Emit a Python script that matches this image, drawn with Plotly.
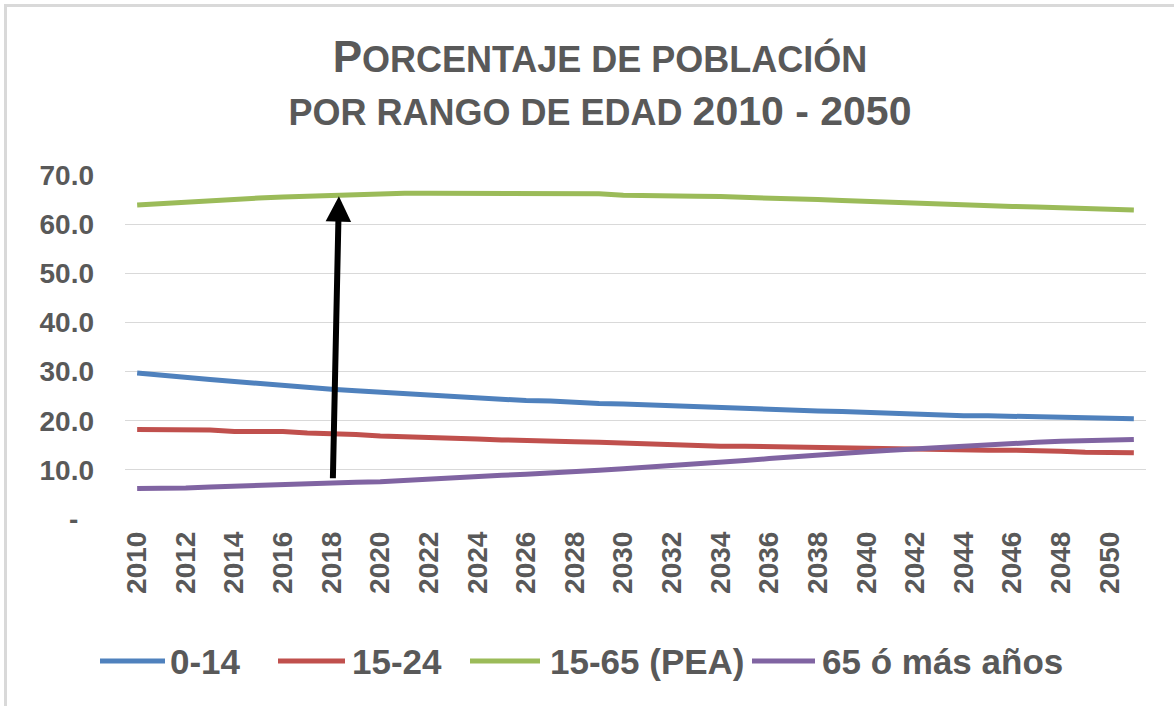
import plotly.graph_objects as go

years = list(range(2010, 2052))

pob_0_14 = [29.7, 29.2, 28.7, 28.4, 28.0, 27.6, 27.0, 26.7, 26.4, 26.1,
            25.8, 25.7, 25.4, 25.0, 24.7, 24.4, 24.1, 24.0, 23.7, 23.5,
            23.4, 23.2, 23.1, 22.8, 22.6, 22.5, 22.3, 22.2, 22.0, 21.9,
            21.7, 21.6, 21.4, 21.2, 21.0, 21.0, 20.9, 20.7, 20.7, 20.6,
            20.4, 20.4]

pob_15_24 = [18.2, 18.2, 18.2, 18.1, 17.8, 17.8, 17.8, 17.5, 17.4, 17.2,
             16.9, 16.8, 16.6, 16.4, 16.3, 16.1, 15.9, 15.7, 15.7, 15.6,
             15.4, 15.2, 15.0, 14.9, 14.8, 14.8, 14.7, 14.6, 14.5, 14.5,
             14.5, 14.3, 14.2, 14.1, 14.1, 14.0, 14.0, 14.0, 13.8, 13.6,
             13.5, 13.5]

pob_15_65 = [63.9, 64.2, 64.5, 64.9, 65.1, 65.3, 65.5, 65.7, 65.8, 66.0,
             66.2, 66.3, 66.3, 66.3, 66.3, 66.3, 66.3, 66.3, 66.3, 66.2,
             65.9, 65.9, 65.9, 65.7, 65.6, 65.5, 65.3, 65.1, 65.0, 64.8,
             64.6, 64.4, 64.2, 64.0, 63.9, 63.7, 63.6, 63.5, 63.3, 63.1,
             63.0, 62.9]

pob_65_mas = [6.2, 6.2, 6.3, 6.5, 6.7, 6.9, 7.0, 7.2, 7.4, 7.5,
              7.6, 7.9, 8.1, 8.3, 8.6, 8.9, 9.1, 9.3, 9.6, 9.9,
              10.2, 10.5, 10.8, 11.2, 11.5, 11.9, 12.3, 12.7, 13.0, 13.4,
              13.7, 14.0, 14.3, 14.6, 14.9, 15.1, 15.3, 15.6, 15.8, 16.0,
              16.2, 16.2]

series_names = ["0-14", "15-24", "15-65 (PEA)", "65 ó más años"]
series_colors = ["#4F81BD", "#C0504D", "#9BBB59", "#8064A2"]

x_tickvals = list(range(2010, 2051, 2))
y_tickvals = [0, 10, 20, 30, 40, 50, 60, 70]
y_ticktext = ["-\u00a0\u00a0", "10.0", "20.0", "30.0", "40.0", "50.0", "60.0", "70.0"]

# arrow (tail and head) in data coordinates
arrow_tail = (2018.05, 8.0)
arrow_head = (2018.3, 65.7)

TXT = "#595959"
FONT = "Liberation Sans, Arial, sans-serif"

fig = go.Figure()
for name, vals, col in zip(series_names,
                           [pob_0_14, pob_15_24, pob_15_65, pob_65_mas],
                           series_colors):
    fig.add_trace(go.Scatter(x=years, y=vals, mode="lines", name=name,
                             line=dict(color=col, width=5), showlegend=False))

L, R, T, B = 125, 28, 175, 187
W, H = 1174, 706
pw, ph = W - L - R, H - T - B


def px_x(p):
    return (p - L) / pw


def px_y(p):
    return (H - B - p) / ph


fig.update_layout(
    width=W, height=H,
    paper_bgcolor="white", plot_bgcolor="white",
    margin=dict(l=L, r=R, t=T, b=B),
    font=dict(family=FONT, color=TXT, weight="bold"),
    title=dict(
        text=("<span style='font-size:44px'>P</span>"
              "<span style='font-size:36px'>ORCENTAJE DE POBLACIÓN</span><br>"
              "<span style='font-size:36px'>POR RANGO DE EDAD </span>"
              "<span style='font-size:41px'>2010 - 2050</span>"),
        font=dict(family=FONT, size=41, color=TXT, weight="bold"),
        x=600 / W, xanchor="center",
        y=1 - 72 / H, yanchor="top",
    ),
    xaxis=dict(
        range=[2009.5, 2051.5],
        tickmode="array", tickvals=x_tickvals,
        ticktext=[str(v) for v in x_tickvals],
        tickangle=-90,
        tickfont=dict(family=FONT, size=28, color=TXT, weight="bold"),
        showgrid=False, zeroline=False, showline=False,
        ticks="", ticklabelstandoff=6,
    ),
    yaxis=dict(
        range=[0, 70],
        tickmode="array", tickvals=y_tickvals, ticktext=y_ticktext,
        tickfont=dict(family=FONT, size=28, color=TXT, weight="bold"),
        showgrid=True, gridcolor="#D9D9D9", gridwidth=1.3,
        zeroline=False, showline=False, ticks="",
        ticklabelstandoff=30,
    ),
    showlegend=False,
)

# legend drawn as line samples + labels
legend_line_px = [(100, 165), (278, 345), (470, 540), (752, 815)]
legend_text_px = [168, 350, 548, 820]
legend_y_px = 661
for (x0, x1), tx, name, col in zip(legend_line_px, legend_text_px,
                                   series_names, series_colors):
    fig.add_shape(type="line", xref="paper", yref="paper",
                  x0=px_x(x0), x1=px_x(x1), y0=px_y(legend_y_px), y1=px_y(legend_y_px),
                  line=dict(color=col, width=5))
    fig.add_annotation(x=px_x(tx), y=px_y(legend_y_px), xref="paper", yref="paper",
                       text=name, showarrow=False, xanchor="left", yanchor="middle",
                       font=dict(family=FONT, size=35, color=TXT, weight="bold"))

fig.add_annotation(
    x=arrow_head[0], y=arrow_head[1], xref="x", yref="y",
    ax=arrow_tail[0], ay=arrow_tail[1], axref="x", ayref="y",
    text="", showarrow=True, arrowhead=2, arrowsize=0.85,
    arrowwidth=6, arrowcolor="black", standoff=0, startstandoff=0,
)

# outer chart frame (Excel chart border)
fig.add_shape(type="rect", xref="paper", yref="paper",
              x0=px_x(5.5), x1=px_x(1190), y0=px_y(5.5), y1=px_y(720),
              line=dict(color="#D9D9D9", width=3), fillcolor="rgba(0,0,0,0)",
              layer="below")

fig.write_html("out.html", config={"displayModeBar": False},
               post_script="document.body.style.margin='0';")
